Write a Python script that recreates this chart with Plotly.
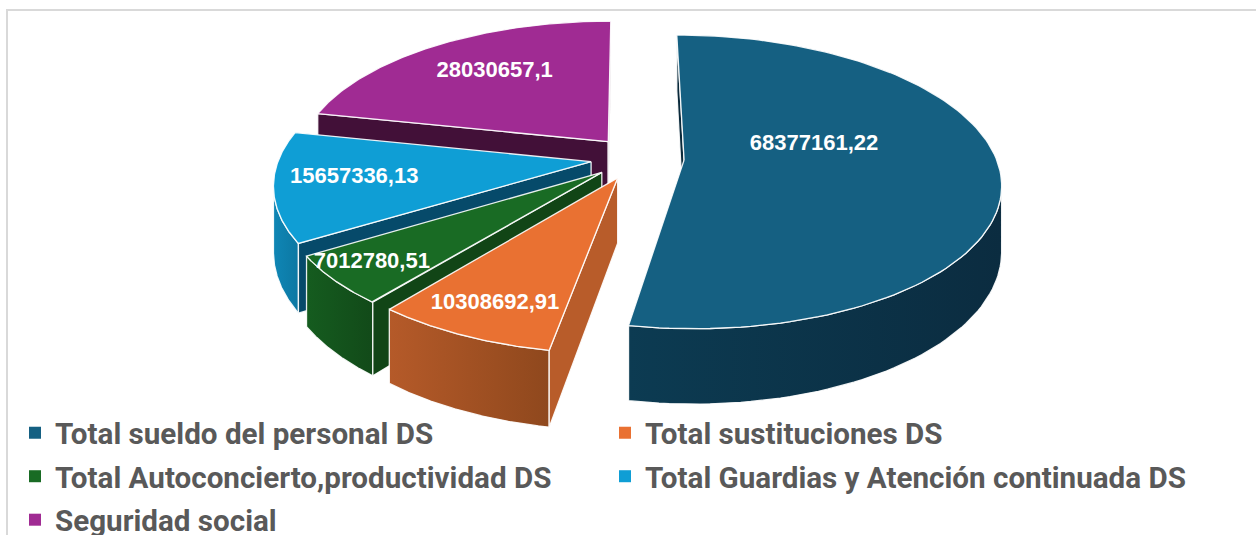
import numpy as np
import plotly.graph_objects as go

# ---- data ----
categories = ["Total sueldo del personal DS", "Total sustituciones DS",
              "Total Autoconcierto,productividad DS",
              "Total Guardias y Atención continuada DS", "Seguridad social"]
values = [68377161.22, 10308692.91, 7012780.51, 15657336.13, 28030657.1]
labels = ["68377161,22", "10308692,91", "7012780,51", "15657336,13", "28030657,1"]

# ---- styles ----
top_colors = ["#156082", "#E97132", "#196B24", "#0F9ED5", "#A02B93"]
wall_colors = ["#0a2a3b", "#B85C2A", "#114516", "#064A6A", "#421038"]
rim_left = ["#0c3b52", "#B55A29", "#155C1F", "#0F86B5", "#7a2070"]
rim_right = ["#0b2c40", "#8F481D", "#124A19", "#0C78A3", "#7a2070"]
label_angle = [73, 204.7, 230.5, 262.9, 324.5]
label_radius = [0.447, 0.81, 0.855, 0.75, 0.70]
LABEL_DY = 2.5

# ---- projection (tilted pie seen in perspective) ----
EXPLODE, CX = 0.15, 0.03
VX, VY, SX, SY, K, DEPTH = 628, 158, 312, 143, 0.149, 64
PAGE_H = 600  # the page runs past the 535 px window, so the last legend row is cut as in the reference


def proj(X, Y, down=0.0):
    X, Y = np.asarray(X, float), np.asarray(Y, float)
    f = 1 / (1 + K * Y)
    return VX + SX * X * f, VY - SY * Y * f + down * DEPTH * f


def area(x, y):
    return float(np.sum(x * np.roll(y, -1) - np.roll(x, -1) * y))


total = sum(values)
edges = np.concatenate([[0], np.cumsum(values)]) / total * 2 * np.pi

fig = go.Figure()


def poly(x, y, fill=None, grad=None):
    kw = dict(fillcolor=fill) if fill else dict(
        fillgradient=dict(type="horizontal", colorscale=[[0, grad[0]], [1, grad[1]]]))
    fig.add_trace(go.Scatter(x=np.append(x, x[0]), y=np.append(y, y[0]), mode="lines",
                             fill="toself", line=dict(color="rgba(255,255,255,0.9)", width=1.3),
                             showlegend=False, hoverinfo="skip", **kw))


apexes = []
for i in range(5):
    a0, a1 = edges[i], edges[i + 1]
    mid = (a0 + a1) / 2
    apexes.append((CX + EXPLODE * np.sin(mid), EXPLODE * np.cos(mid)))

# painter's order: back slices first, hidden faces culled
for i in [4, 3, 2, 1, 0]:
    a0, a1 = edges[i], edges[i + 1]
    ax, ay = apexes[i]
    th = np.linspace(a0, a1, 120)
    X, Y = ax + np.sin(th), ay + np.cos(th)
    tx, ty = proj(X, Y)
    bx, by = proj(X, Y, 1)
    px, py = proj(ax, ay)
    qx, qy = proj(ax, ay, 1)
    # outer rim: only the part that faces the viewer
    vis = np.gradient(tx) < 0
    if vis.any():
        poly(np.concatenate([tx[vis], bx[vis][::-1]]), np.concatenate([ty[vis], by[vis][::-1]]),
             grad=(rim_left[i], rim_right[i]))
    # cut walls
    wx = np.array([px, tx[0], bx[0], qx])
    wy = np.array([py, ty[0], by[0], qy])
    if area(wx, wy) < 0:
        poly(wx, wy, fill=wall_colors[i])
    wx = np.array([px, tx[-1], bx[-1], qx])
    wy = np.array([py, ty[-1], by[-1], qy])
    if area(wx, wy) > 0:
        poly(wx, wy, fill=wall_colors[i])
    # top face
    poly(np.concatenate([[px], tx]), np.concatenate([[py], ty]), fill=top_colors[i])

# value labels
lx, ly = [], []
for i in range(5):
    t = np.deg2rad(label_angle[i])
    x, y = proj(apexes[i][0] + label_radius[i] * np.sin(t), apexes[i][1] + label_radius[i] * np.cos(t))
    lx.append(float(x))
    ly.append(float(y) + LABEL_DY)
fig.add_trace(go.Scatter(x=lx, y=ly, text=labels, mode="text", textposition="middle center",
                         textfont=dict(family="Liberation Sans", size=22, color="white", weight="bold"),
                         showlegend=False, hoverinfo="skip"))

# legend entries: two columns
for i, (name, col) in enumerate(zip(categories, top_colors)):
    fig.add_trace(go.Scatter(x=[None], y=[None], mode="markers", name=name,
                             marker=dict(color=col, size=12, symbol="square"),
                             legend="legend" if i % 2 == 0 else "legend2",
                             legendgroup=f"g{i}"))

leg = dict(orientation="v", yanchor="top", xanchor="left", y=1 - 407 / PAGE_H,
           bgcolor="rgba(0,0,0,0)", tracegroupgap=2, itemsizing="constant",
           font=dict(family="Roboto", size=29.6, color="#595959", weight="bold"),
           borderwidth=0)

fig.update_layout(
    width=1256, height=PAGE_H, margin=dict(l=0, r=0, t=0, b=0),
    paper_bgcolor="white", plot_bgcolor="white",
    xaxis=dict(range=[0, 1256], visible=False, fixedrange=True),
    yaxis=dict(range=[PAGE_H, 0], visible=False, fixedrange=True),
    legend=dict(x=15 / 1256, **leg),
    legend2=dict(x=605 / 1256, **leg),
    shapes=[dict(type="rect", xref="x", yref="y", x0=7, y0=10, x1=1400, y1=700,
                 line=dict(color="#D9D9D9", width=2), layer="below")],
)
fig.write_html("out.html", config={"displayModeBar": False},
               post_script="document.body.style.margin='0';document.body.style.overflow='hidden';"
                           "document.documentElement.style.overflow='hidden';")
